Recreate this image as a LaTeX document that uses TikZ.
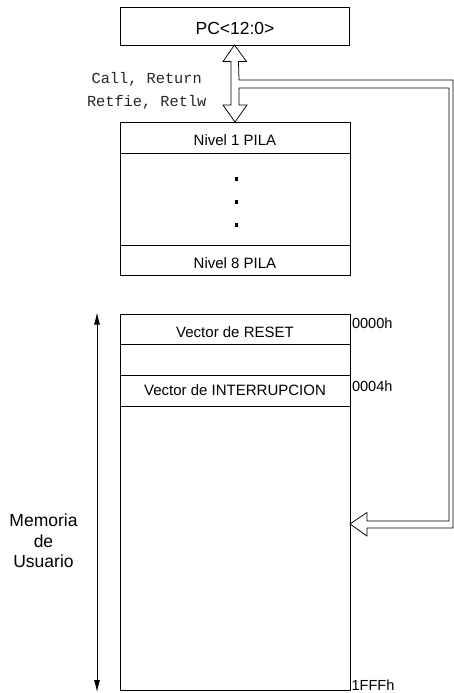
\documentclass[tikz,border=0pt]{standalone}
\usepackage{fontspec}
\setmainfont{Liberation Sans}
\newfontfamily\monofont{Liberation Mono}
\usetikzlibrary{arrows.meta,calc}
\begin{document}
\begin{tikzpicture}[x=1pt,y=-1pt,
  every node/.style={inner sep=0pt,outer sep=0pt},
  box/.style={draw,line width=0.75pt,anchor=north west},
  txt/.style={font=\fontsize{15}{18}\selectfont,anchor=base},
  bigtxt/.style={font=\fontsize{17.5}{20.5}\selectfont},
  addr/.style={font=\fontsize{14.6}{18}\selectfont,anchor=base west},
  ln/.style={line width=0.75pt},
  dot/.style={fill=black,minimum size=3.6pt}
]
\useasboundingbox (0,0) rectangle (454,693);

% PC box
\node[box,minimum width=229pt,minimum height=38pt] (pc) at (120,7) {};
\node[font=\fontsize{17.5}{20}\selectfont,anchor=base] (pct) at (235,34.5) {PC<12:0>};

% Stack
\node[box,minimum width=230pt,minimum height=153pt] (stk) at (120,122) {};
\coordinate (s1) at (120,153);
\coordinate (s2) at (120,245);
\draw[ln] (s1) -- ++(230,0);
\draw[ln] (s2) -- ++(230,0);
\node[txt] (n1) at (235,145.7) {Nivel 1 PILA};
\node[txt] (n8) at (235,268.3) {Nivel 8 PILA};
\node[dot] (d1) at (236.5,179) {};
\node[dot] (d2) at (236.5,202) {};
\node[dot] (d3) at (236.5,225) {};

% Memory
\node[box,minimum width=230pt,minimum height=376pt] (mem) at (120,314) {};
\coordinate (m1) at (120,344);
\coordinate (m2) at (120,375);
\coordinate (m3) at (120,406);
\draw[ln] (m1) -- ++(230,0);
\draw[ln] (m2) -- ++(230,0);
\draw[ln] (m3) -- ++(230,0);
\node[txt] (vr) at (235,337.3) {Vector de RESET};
\node[txt] (vi) at (235,395) {Vector de INTERRUPCION};
\node[addr] (a0) at (352,328.3) {0000h};
\node[addr] (a4) at (352,391.7) {0004h};
\node[addr] (af) at (351.5,690) {1FFFh};

% Instruction labels
\node[font=\monofont\fontsize{15.3}{18}\selectfont,anchor=base,text=black!85] (ins1) at (146.7,84) {Call, Return};
\node[font=\monofont\fontsize{15.3}{18}\selectfont,anchor=base,text=black!85] (ins2) at (146.7,106.7) {Retfie, Retlw};

% Memory extent arrow
\coordinate (mt) at (97,312.5);
\coordinate (mb) at (97,692);
\draw[ln,{Latex[length=12pt,width=6pt]}-{Latex[length=12pt,width=6pt]}] (mt) -- (mb);
\node[bigtxt,align=center] (mu) at (43.5,541) {Memoria\\de\\Usuario};

% Hollow double arrow with branch to memory
\draw[ln,line join=miter,fill=white]
  (pc.south) -- ++(12,16.5) -- ++(-8,0) -- (239,80) -- (453,80) -- (453,528)
  -- (367,528) -- (367,536) -- (mem.east |- 0,524) -- (367,512.5) -- (367,521)
  -- (449,521) -- (449,88) -- (239,88) -- (239,105) -- (247,105)
  -- (stk.north) -- (223,105) -- (231,105) -- (231,61.5) -- (223,61.5) -- cycle;
\end{tikzpicture}
\end{document}
